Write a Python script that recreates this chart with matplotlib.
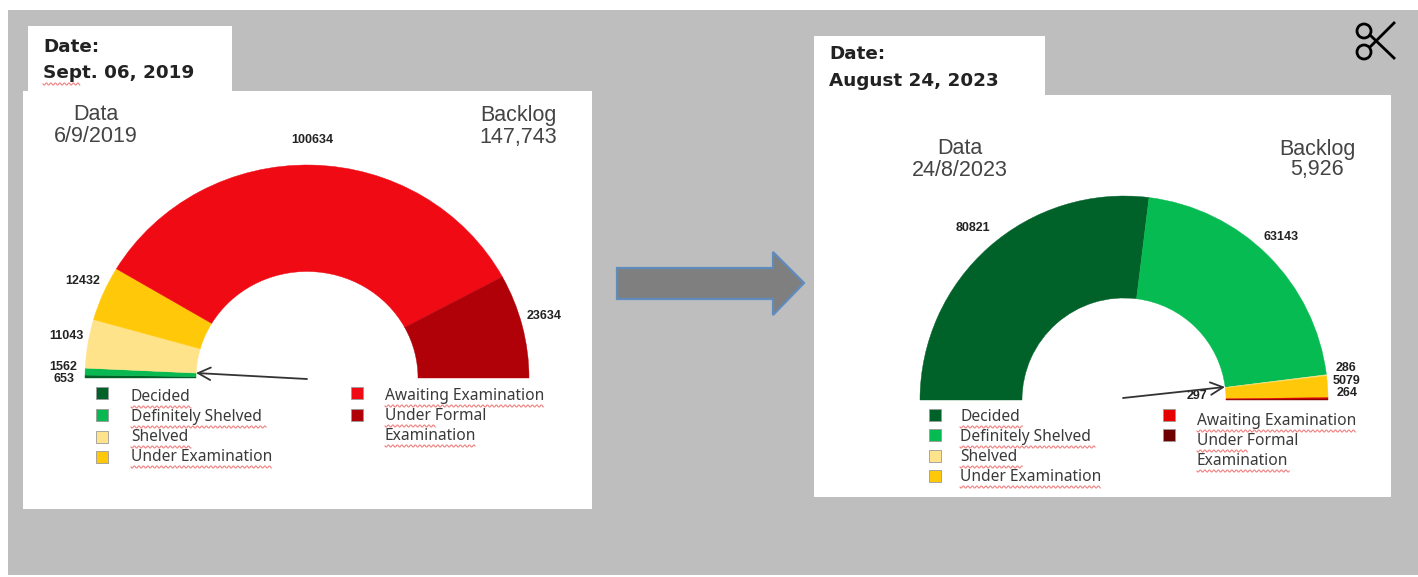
import matplotlib

matplotlib.use("Agg")
import matplotlib.pyplot as plt
import numpy as np
from matplotlib.patches import Circle, Polygon, Rectangle

W, H = 1418, 577

# slices run clockwise from the left end of the half ring
VALUES_2019 = [653, 1562, 11043, 12432, 100634, 23634]
VALUES_2023 = [80821, 63143, 286, 5079, 297, 264]
COLORS_2019 = ["#006129", "#08b850", "#ffe38a", "#ffc90a", "#f00a14", "#b00008"]
COLORS_2023 = ["#006129", "#06bb52", "#ffe38a", "#ffc90a", "#e60000", "#8a0000"]

LEGEND_LEFT = ["Decided", "Definitely Shelved", "Shelved", "Under Examination"]
LEGEND_RIGHT = ["Awaiting Examination", "Under Formal", "Examination"]
LEGEND_COLORS_2023 = ["#006129", "#06bb52", "#ffe38a", "#ffc90a", "#e60000", "#6e0000"]

GREY = "#bebebe"
TXT = "#3a3a3a"


def squiggle(ax, x0, x1, y):
    # spell-check underline
    x = np.arange(x0, x1 + 0.5, 0.75)
    y2 = y + 1.1 * np.sin((x - x0) * 2 * np.pi / 4.5)
    ax.plot(x, y2, color="#f08080", lw=0.8, zorder=4)


def gauge(fig, values, colors, cx, cy, rx, ry, hole):
    box = [(cx - rx) / W, 1 - (cy + ry) / H, 2 * rx / W, 2 * ry / H]
    ax = fig.add_axes(box, facecolor="none")
    wedges, _ = ax.pie(values + [sum(values)], colors=colors + ["none"], startangle=180,
                       counterclock=False, radius=1, wedgeprops=dict(width=hole, linewidth=0.3))
    # same colour edge closes the seams between slices
    for w, c in zip(wedges, colors + ["none"]):
        w.set_edgecolor(c)
    ax.set_aspect("auto")
    ax.set_xlim(-1, 1)
    ax.set_ylim(-1, 1)
    ax.axis("off")


def squares(ax, x, ys, colors):
    for y, c in zip(ys, colors):
        ax.add_patch(Rectangle((x - 6, y - 6), 12, 12, fc=c, ec="#9a9a9a", lw=0.6, zorder=3))


def labels(ax, x, ys, texts, ul):
    for y, lab, u in zip(ys, texts, ul):
        ax.text(x, y, lab, fontsize=11.2, family="Noto Sans", color=TXT,
                va="center", ha="left", zorder=4)
        squiggle(ax, x, x + u, y + 10)


def main():
    fig = plt.figure(figsize=(W / 100, H / 100), dpi=100, facecolor="white")
    ax = fig.add_axes([0, 0, 1, 1])
    ax.set_xlim(0, W)
    ax.set_ylim(H, 0)
    ax.axis("off")

    # backdrop and white panels
    ax.add_patch(Rectangle((8, 10), W - 8, 565, fc=GREY, ec="none"))
    for x, y, w, h in [(23, 91, 569, 418), (28, 26, 204, 66),
                       (814, 95, 577, 402), (814, 36, 231, 60)]:
        ax.add_patch(Rectangle((x, y), w, h, fc="white", ec="none"))

    # date tabs
    for x, y, s in [(43, 47, "Date:"), (43, 73, "Sept. 06, 2019"),
                    (829, 54, "Date:"), (829, 81, "August 24, 2023")]:
        ax.text(x, y, s, fontsize=13.2, weight="bold", family="DejaVu Sans", color="#222222", va="center")
    squiggle(ax, 43, 80, 84)

    # headers
    for x, y, s in [(96, 115, "Data"), (96, 137, "6/9/2019"),
                    (518, 116, "Backlog"), (518, 137, "147,743"),
                    (960, 149, "Data"), (960, 170, "24/8/2023"),
                    (1317, 149, "Backlog"), (1317, 170, "5,926")]:
        ax.text(x, y, s, fontsize=15.5, family="Liberation Sans", color="#444444", ha="center", va="center")

    # slice labels
    for val, x, y in zip(VALUES_2019, [64, 63, 66, 83, 312, 544], [379, 367, 336, 281, 140, 316]):
        ax.text(x, y, str(val), fontsize=9, weight="bold", family="Liberation Sans",
                color="#222222", ha="center", va="center")
    for val, x, y in zip(VALUES_2023, [973, 1281, 1346, 1347, 1197, 1347],
                         [228, 237, 368, 381, 396, 393]):
        ax.text(x, y, str(val), fontsize=9, weight="bold", family="Liberation Sans",
                color="#222222", ha="center", va="center")

    gauge(fig, VALUES_2019, COLORS_2019, 307, 378, 222, 213, 0.5)
    gauge(fig, VALUES_2023, COLORS_2023, 1124, 400, 204, 204, 0.5)

    # pointers
    head = "->,head_length=0.9,head_width=0.45"
    ax.annotate("", xy=(196, 373), xytext=(307, 379),
                arrowprops=dict(arrowstyle=head, color="#333333", lw=1.3, shrinkA=0, shrinkB=0))
    ax.annotate("", xy=(1225, 387), xytext=(1123, 398),
                arrowprops=dict(arrowstyle=head, color="#333333", lw=1.3, shrinkA=0, shrinkB=0))

    # legends
    squares(ax, 102, [393, 415, 437, 457], COLORS_2019[:4])
    labels(ax, 131, [397, 417, 437, 457], LEGEND_LEFT, [60, 135, 60, 140])
    squares(ax, 357, [393, 415], COLORS_2019[4:])
    labels(ax, 385, [396, 416, 436], LEGEND_RIGHT, [158, 50, 90])
    squares(ax, 935, [415, 435, 456, 476], LEGEND_COLORS_2023[:4])
    labels(ax, 960, [417, 437, 457, 477], LEGEND_LEFT, [62, 135, 62, 140])
    squares(ax, 1169, [415, 435], LEGEND_COLORS_2023[4:])
    labels(ax, 1197, [421, 441, 461], LEGEND_RIGHT, [158, 50, 92])

    # big block arrow
    ax.add_patch(Polygon([(617, 268), (773, 268), (773, 252), (804, 283), (773, 315), (773, 299), (617, 299)],
                         closed=True, fc="#7f7f7f", ec="#5f8bbd", lw=1.6))

    # scissors
    for yc in (31, 52):
        ax.add_patch(Circle((1364, yc), 7, fc="none", ec="black", lw=2))
    ax.plot([1394, 1370], [23, 47], color="black", lw=2)
    ax.plot([1394, 1370], [58, 35], color="black", lw=2)

    fig.savefig("out.png", dpi=100)


if __name__ == "__main__":
    main()
